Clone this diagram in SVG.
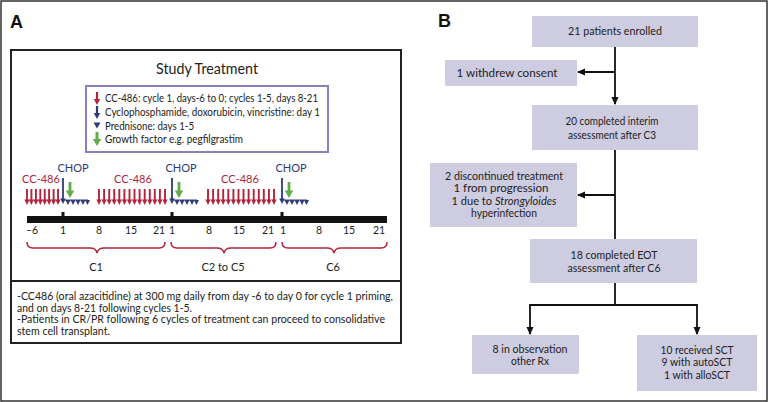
<svg xmlns="http://www.w3.org/2000/svg" xmlns:xlink="http://www.w3.org/1999/xlink" width="768" height="402" viewBox="0 0 768 402">
<style>
.t{font-family:Lato,"Open Sans","Liberation Sans",sans-serif;fill:#222;font-size:10.5px}
.c{text-anchor:middle}
.lbl{font-family:"Liberation Sans",Arial,sans-serif;font-weight:bold;font-size:18px;fill:#111}
.box{fill:#cecce0;stroke:none}
.conn{stroke:#111;stroke-width:1.8;fill:none}
.brace{stroke:#b3243c;stroke-width:1.5;fill:none}
</style>
<defs>
<g id="ra"><line x1="0" y1="0" x2="0" y2="12" stroke="#b3243c" stroke-width="1.9"/><polygon points="-2.6,10.5 2.6,10.5 0,16" fill="#b3243c"/></g>
<g id="ba"><line x1="0" y1="0" x2="0" y2="22" stroke="#2d3b7a" stroke-width="1.8"/><polygon points="-2.8,20.5 2.8,20.5 0,26" fill="#2d3b7a"/></g>
<g id="ga"><line x1="0" y1="0" x2="0" y2="10" stroke="#62ad47" stroke-width="2.8"/><polygon points="-4.2,8.5 4.2,8.5 0,16" fill="#62ad47"/></g>
<polygon id="tri" points="-2.5,0 2.5,0 0,5" fill="#2d3b7a"/>
<g id="pred"><line x1="0" y1="0" x2="25" y2="0" stroke="#2d3b7a" stroke-width="1"/><use xlink:href="#tri" x="5"/><use xlink:href="#tri" x="10"/><use xlink:href="#tri" x="15"/><use xlink:href="#tri" x="20"/><use xlink:href="#tri" x="24.5"/></g>
<marker id="ah" markerWidth="8" markerHeight="8" viewBox="0 0 8 8" refX="7" refY="4" orient="auto" markerUnits="userSpaceOnUse"><polygon points="0,0.5 8,4 0,7.5" fill="#111"/></marker>
</defs>

<rect x="1" y="1" width="766" height="400" fill="#fff" stroke="#333" stroke-width="1.5"/>

<g id="panelA">
<text class="lbl" x="10" y="28">A</text>
<rect x="11" y="50" width="390" height="293" fill="#fff" stroke="#222" stroke-width="2"/>
<line x1="11" y1="281" x2="401" y2="281" stroke="#222" stroke-width="2"/>
<text class="t c" x="207" y="74" style="font-size:14.5px" textLength="102" lengthAdjust="spacingAndGlyphs">Study Treatment</text>
</g>

<g id="legend">
<rect x="86" y="86" width="242" height="66" fill="#fff" stroke="#8a7fc2" stroke-width="2"/>
<line x1="97" y1="92" x2="97" y2="100" stroke="#b3243c" stroke-width="2.2"/><polygon points="93.8,99 100.2,99 97,105" fill="#b3243c"/>
<line x1="97" y1="106" x2="97" y2="114" stroke="#2d3b7a" stroke-width="2.2"/><polygon points="93.8,113 100.2,113 97,119" fill="#2d3b7a"/>
<polygon points="93.5,122.5 100.5,122.5 97,128.5" fill="#2d3b7a"/>
<line x1="97" y1="132" x2="97" y2="140" stroke="#62ad47" stroke-width="3"/><polygon points="92.8,139 101.2,139 97,146" fill="#62ad47"/>
<text class="t" x="105" y="102" textLength="213" lengthAdjust="spacingAndGlyphs">CC-486: cycle 1, days-6 to 0; cycles 1-5, days 8-21</text>
<text class="t" x="105" y="116" textLength="215" lengthAdjust="spacingAndGlyphs">Cyclophosphamide, doxorubicin, vincristine: day 1</text>
<text class="t" x="105" y="130" textLength="89" lengthAdjust="spacingAndGlyphs">Prednisone: days 1-5</text>
<text class="t" x="105" y="143" textLength="138" lengthAdjust="spacingAndGlyphs">Growth factor e.g. pegfilgrastim</text>
</g>

<g id="timeline">
<text class="t c" x="41" y="183" style="fill:#b3243c;font-size:11px">CC-486</text>
<text class="t c" x="133" y="183" style="fill:#b3243c;font-size:11px">CC-486</text>
<text class="t c" x="240" y="183" style="fill:#b3243c;font-size:11px">CC-486</text>
<text class="t c" x="73" y="172" style="fill:#2d3b7a;font-size:11px">CHOP</text>
<text class="t c" x="181" y="172" style="fill:#2d3b7a;font-size:11px">CHOP</text>
<text class="t c" x="291" y="172" style="fill:#2d3b7a;font-size:11px">CHOP</text>

<use xlink:href="#ra" x="27" y="189"/><use xlink:href="#ra" x="31.4" y="189"/><use xlink:href="#ra" x="35.9" y="189"/><use xlink:href="#ra" x="40.3" y="189"/><use xlink:href="#ra" x="44.7" y="189"/><use xlink:href="#ra" x="49.1" y="189"/><use xlink:href="#ra" x="53.6" y="189"/><use xlink:href="#ra" x="58" y="189"/>
<use xlink:href="#ra" x="99" y="189"/><use xlink:href="#ra" x="104.1" y="189"/><use xlink:href="#ra" x="109.2" y="189"/><use xlink:href="#ra" x="114.2" y="189"/><use xlink:href="#ra" x="119.3" y="189"/><use xlink:href="#ra" x="124.4" y="189"/><use xlink:href="#ra" x="129.5" y="189"/><use xlink:href="#ra" x="134.5" y="189"/><use xlink:href="#ra" x="139.6" y="189"/><use xlink:href="#ra" x="144.7" y="189"/><use xlink:href="#ra" x="149.8" y="189"/><use xlink:href="#ra" x="154.8" y="189"/><use xlink:href="#ra" x="159.9" y="189"/><use xlink:href="#ra" x="165" y="189"/>
<use xlink:href="#ra" x="208" y="189"/><use xlink:href="#ra" x="213.1" y="189"/><use xlink:href="#ra" x="218.2" y="189"/><use xlink:href="#ra" x="223.2" y="189"/><use xlink:href="#ra" x="228.3" y="189"/><use xlink:href="#ra" x="233.4" y="189"/><use xlink:href="#ra" x="238.5" y="189"/><use xlink:href="#ra" x="243.5" y="189"/><use xlink:href="#ra" x="248.6" y="189"/><use xlink:href="#ra" x="253.7" y="189"/><use xlink:href="#ra" x="258.8" y="189"/><use xlink:href="#ra" x="263.8" y="189"/><use xlink:href="#ra" x="268.9" y="189"/><use xlink:href="#ra" x="274" y="189"/>

<use xlink:href="#ba" x="63" y="178"/><use xlink:href="#ga" x="70" y="182"/><use xlink:href="#pred" x="63" y="200"/>
<use xlink:href="#ba" x="172" y="178"/><use xlink:href="#ga" x="179" y="182"/><use xlink:href="#pred" x="172" y="200"/>
<use xlink:href="#ba" x="282" y="178"/><use xlink:href="#ga" x="289" y="182"/><use xlink:href="#pred" x="282" y="200"/>

<rect x="27" y="216" width="360" height="7" fill="#111"/>
<rect x="61.5" y="212" width="3" height="5" fill="#111"/>
<rect x="170.5" y="212" width="3" height="5" fill="#111"/>
<rect x="280.5" y="212" width="3" height="5" fill="#111"/>

<text class="t c" x="32" y="234">–6</text>
<text class="t c" x="63" y="234">1</text>
<text class="t c" x="99" y="234">8</text>
<text class="t c" x="131" y="234">15</text>
<text class="t c" x="159" y="234">21</text>
<text class="t c" x="172" y="234">1</text>
<text class="t c" x="209" y="234">8</text>
<text class="t c" x="239" y="234">15</text>
<text class="t c" x="268" y="234">21</text>
<text class="t c" x="283" y="234">1</text>
<text class="t c" x="319" y="234">8</text>
<text class="t c" x="349" y="234">15</text>
<text class="t c" x="379" y="234">21</text>

<path class="brace" d="M27,242 Q27,248 33,248 L90,248 Q96,248 97,253 Q98,248 104,248 L159,248 Q165,248 165,242"/>
<path class="brace" d="M171,242 Q171,248 177,248 L217,248 Q223,248 224,253 Q225,248 231,248 L270,248 Q276,248 276,242"/>
<path class="brace" d="M282,242 Q282,248 288,248 L327,248 Q333,248 334,253 Q335,248 341,248 L381,248 Q387,248 387,242"/>
<text class="t c" x="96" y="271" style="font-size:11px">C1</text>
<text class="t c" x="223" y="271" style="font-size:11px">C2 to C5</text>
<text class="t c" x="333" y="271" style="font-size:11px">C6</text>
</g>

<g id="notes">
<text class="t" x="17" y="300" textLength="376" lengthAdjust="spacingAndGlyphs">-CC486 (oral azacitidine) at 300 mg daily from day -6 to day 0 for cycle 1 priming,</text>
<text class="t" x="17" y="311.5" textLength="175" lengthAdjust="spacingAndGlyphs">and on days 8-21 following cycles 1-5.</text>
<text class="t" x="17" y="323" textLength="368" lengthAdjust="spacingAndGlyphs">-Patients in CR/PR following 6 cycles of treatment can proceed to consolidative</text>
<text class="t" x="17" y="334.5" textLength="93" lengthAdjust="spacingAndGlyphs">stem cell transplant.</text>
</g>

<text class="lbl" x="438" y="27">B</text>

<g id="connectors">
<line class="conn" x1="615" y1="47" x2="615" y2="104" marker-end="url(#ah)"/>
<line class="conn" x1="615" y1="72" x2="578" y2="72" marker-end="url(#ah)"/>
<line class="conn" x1="615" y1="150" x2="615" y2="239"/>
<line class="conn" x1="615" y1="195" x2="578" y2="195" marker-end="url(#ah)"/>
<polyline class="conn" points="615,283 615,305 530,305 530,334" marker-end="url(#ah)"/>
<polyline class="conn" points="615,305 697,305 697,334" marker-end="url(#ah)"/>
</g>

<g id="n1"><rect class="box" x="532" y="16" width="166" height="31"/>
<text class="t c" x="615" y="35" textLength="94" lengthAdjust="spacingAndGlyphs">21 patients enrolled</text></g>

<g id="n2"><rect class="box" x="445" y="60" width="132" height="26"/>
<text class="t c" x="507" y="76.5" textLength="101" lengthAdjust="spacingAndGlyphs">1 withdrew consent</text></g>

<g id="n3"><rect class="box" x="532" y="105" width="166" height="45"/>
<text class="t c" x="612" y="124.5" textLength="93" lengthAdjust="spacingAndGlyphs">20 completed interim</text>
<text class="t c" x="612" y="139" textLength="88" lengthAdjust="spacingAndGlyphs">assessment after C3</text></g>

<g id="n4"><rect class="box" x="430" y="163" width="147" height="64"/>
<text class="t c" x="504" y="179.5" textLength="118" lengthAdjust="spacingAndGlyphs">2 discontinued treatment</text>
<text class="t c" x="501" y="192" textLength="95" lengthAdjust="spacingAndGlyphs">1 from progression</text>
<text class="t c" x="504" y="204.5" textLength="105" lengthAdjust="spacingAndGlyphs">1 due to <tspan font-style="italic">Strongyloides</tspan></text>
<text class="t c" x="504" y="217" textLength="66" lengthAdjust="spacingAndGlyphs">hyperinfection</text></g>

<g id="n5"><rect class="box" x="530" y="239" width="167" height="44"/>
<text class="t c" x="614" y="258.5" textLength="87" lengthAdjust="spacingAndGlyphs">18 completed EOT</text>
<text class="t c" x="614" y="271.5" textLength="93" lengthAdjust="spacingAndGlyphs">assessment after C6</text></g>

<g id="n6"><rect class="box" x="472" y="335" width="107" height="39"/>
<text class="t c" x="530" y="352.5" textLength="75" lengthAdjust="spacingAndGlyphs">8 in observation</text>
<text class="t c" x="530" y="365" textLength="38" lengthAdjust="spacingAndGlyphs">other Rx</text></g>

<g id="n7"><rect class="box" x="637" y="335" width="120" height="56"/>
<text class="t c" x="697" y="353.5" textLength="73" lengthAdjust="spacingAndGlyphs">10 received SCT</text>
<text class="t c" x="697" y="366" textLength="71" lengthAdjust="spacingAndGlyphs">9 with autoSCT</text>
<text class="t c" x="697" y="378.5" textLength="66" lengthAdjust="spacingAndGlyphs">1 with alloSCT</text></g>
</svg>
